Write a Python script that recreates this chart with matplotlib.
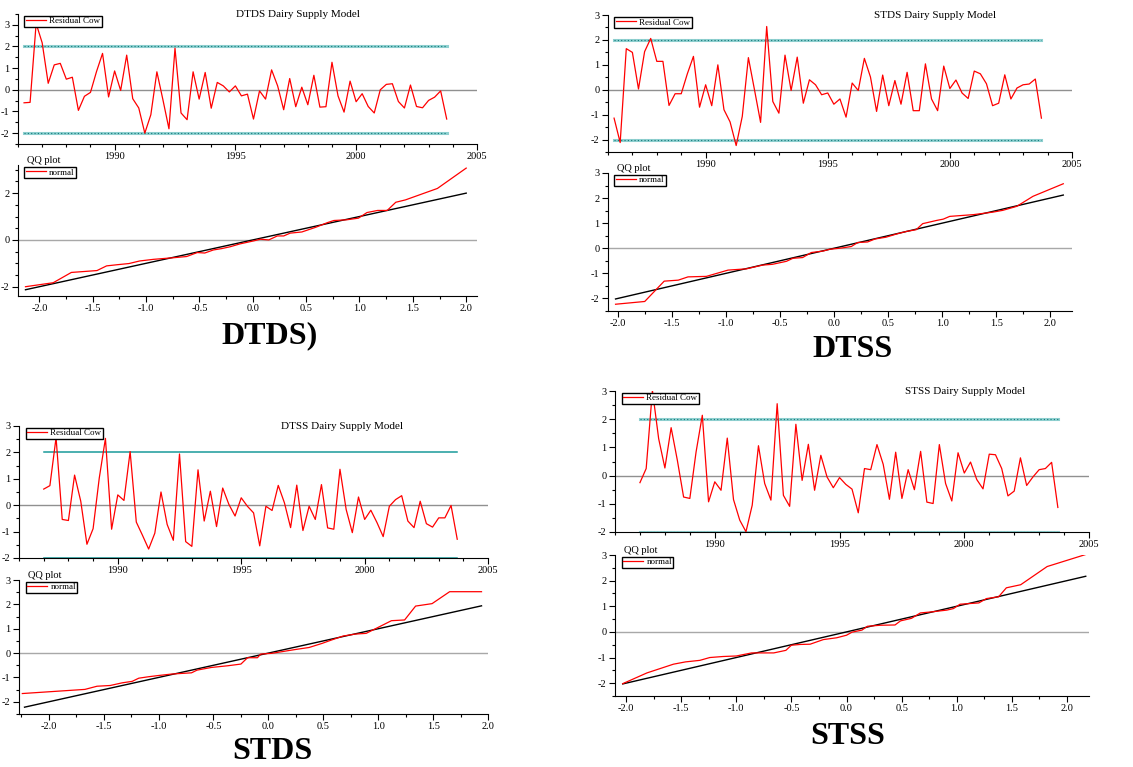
import numpy as np
import matplotlib
matplotlib.use('Agg')
import matplotlib.pyplot as plt
from matplotlib.ticker import MultipleLocator

plt.rcParams['font.family'] = ['Liberation Serif', 'DejaVu Serif']
plt.rcParams['axes.unicode_minus'] = False

# residuals, quarterly
dates_86 = np.arange(1986.25, 2003.76, 0.25)   # 71 quarters
dates_87 = np.arange(1987.0, 2003.76, 0.25)    # 68 quarters

res_dtds = [-0.6, -0.58, 3.06, 2.17, 0.3, 1.15, 1.22, 0.49, 0.58, -0.95,
            -0.3, -0.12, 0.84, 1.68, -0.33, 0.87, -0.03, 1.6, -0.41, -0.84,
            -2.0, -1.15, 0.83, -0.46, -1.8, 1.92, -1.07, -1.38, 0.83, -0.43,
            0.8, -0.85, 0.34, 0.18, -0.1, 0.18, -0.28, -0.2, -1.35, -0.05,
            -0.43, 0.92, 0.18, -0.92, 0.52, -0.78, 0.12, -0.69, 0.67, -0.8,
            -0.78, 1.27, -0.28, -1.03, 0.4, -0.55, -0.18, -0.77, -1.07, 0.0,
            0.25, 0.28, -0.54, -0.84, 0.22, -0.77, -0.83, -0.49, -0.34, -0.05,
            -1.35]
res_stds = [-1.14, -2.12, 1.65, 1.5, 0.03, 1.53, 2.06, 1.14, 1.14, -0.63,
            -0.16, -0.16, 0.64, 1.34, -0.7, 0.2, -0.64, 1.0, -0.8, -1.29,
            -2.24, -1.07, 1.29, 0.0, -1.31, 2.54, -0.47, -0.94, 1.39, -0.03,
            1.31, -0.54, 0.4, 0.2, -0.2, -0.13, -0.58, -0.37, -1.1, 0.27,
            -0.03, 1.26, 0.51, -0.87, 0.59, -0.64, 0.37, -0.58, 0.7, -0.84,
            -0.84, 1.04, -0.37, -0.84, 0.95, 0.05, 0.39, -0.13, -0.35, 0.75,
            0.64, 0.24, -0.64, -0.54, 0.6, -0.37, 0.07, 0.2, 0.23, 0.43,
            -1.14]
res_dtss = [0.61, 0.74, 2.56, -0.54, -0.58, 1.14, 0.15, -1.48, -0.89, 1.03,
            2.53, -0.91, 0.39, 0.18, 2.03, -0.64, -1.14, -1.66, -1.06, 0.5,
            -0.73, -1.33, 1.94, -1.38, -1.56, 1.34, -0.6, 0.53, -0.81, 0.65,
            0.03, -0.41, 0.28, -0.04, -0.29, -1.54, -0.04, -0.2, 0.75, 0.09,
            -0.85, 0.76, -0.96, -0.04, -0.54, 0.78, -0.86, -0.91, 1.36, -0.16,
            -1.04, 0.31, -0.54, -0.19, -0.66, -1.19, -0.04, 0.21, 0.36, -0.6,
            -0.85, 0.15, -0.7, -0.83, -0.48, -0.48, -0.01, -1.29]
res_stss = [-0.25, 0.25, 3.02, 1.31, 0.27, 1.7, 0.54, -0.76, -0.81, 0.84,
            2.14, -0.93, -0.22, -0.52, 1.33, -0.85, -1.58, -1.99, -1.05, 1.06,
            -0.28, -0.87, 2.55, -0.7, -1.09, 1.82, -0.17, 1.11, -0.52, 0.72,
            -0.05, -0.43, -0.07, -0.31, -0.48, -1.32, 0.25, 0.21, 1.1, 0.4,
            -0.84, 0.83, -0.81, 0.21, -0.5, 0.86, -0.94, -0.99, 1.1, -0.28,
            -0.9, 0.81, 0.09, 0.48, -0.14, -0.47, 0.76, 0.74, 0.25, -0.72,
            -0.55, 0.63, -0.35, -0.05, 0.21, 0.25, 0.47, -1.13]

# QQ plots: theoretical quantile, sample quantile
qq_dtds_x = [-2.13, -1.87, -1.70, -1.46, -1.37, -1.27, -1.16, -1.06, -0.93, -0.74,
             -0.62, -0.52, -0.45, -0.37, -0.29, -0.21, -0.12, 0.01, 0.07, 0.15,
             0.23, 0.29, 0.35, 0.46, 0.59, 0.70, 0.76, 0.88, 0.99, 1.07,
             1.17, 1.26, 1.34, 1.43, 1.73, 2.0]
qq_dtds_y = [-2.0, -1.83, -1.39, -1.31, -1.11, -1.06, -1.01, -0.9, -0.83, -0.76,
             -0.71, -0.54, -0.56, -0.43, -0.37, -0.29, -0.17, -0.04, 0.03, 0.0,
             0.17, 0.17, 0.29, 0.34, 0.54, 0.74, 0.83, 0.86, 0.93, 1.17,
             1.26, 1.26, 1.61, 1.71, 2.2, 3.07]
qq_stds_x = [-2.02, -1.75, -1.57, -1.44, -1.35, -1.18, -0.98, -0.81, -0.66, -0.57,
             -0.44, -0.38, -0.29, -0.21, -0.10, -0.04, 0.07, 0.16, 0.22, 0.31,
             0.38, 0.48, 0.58, 0.67, 0.76, 0.82, 0.95, 1.01, 1.07, 1.29,
             1.47, 1.56, 1.69, 1.84, 2.12]
qq_stds_y = [-2.23, -2.12, -1.31, -1.27, -1.14, -1.12, -0.87, -0.82, -0.67, -0.64,
             -0.52, -0.40, -0.37, -0.17, -0.11, -0.04, 0.01, 0.07, 0.23, 0.25,
             0.37, 0.44, 0.57, 0.67, 0.74, 0.98, 1.11, 1.16, 1.27, 1.34,
             1.44, 1.51, 1.67, 2.07, 2.57]
qq_dtss_x = [-2.24, -1.67, -1.56, -1.44, -1.33, -1.24, -1.18, -1.09, -1.0, -0.88,
             -0.70, -0.65, -0.52, -0.37, -0.25, -0.19, -0.10, -0.07, 0.03, 0.18,
             0.25, 0.37, 0.49, 0.57, 0.68, 0.79, 0.89, 1.01, 1.12, 1.24,
             1.34, 1.49, 1.65, 1.94]
qq_dtss_y = [-1.66, -1.49, -1.36, -1.33, -1.22, -1.16, -1.03, -0.97, -0.92, -0.86,
             -0.81, -0.70, -0.59, -0.52, -0.45, -0.19, -0.19, -0.04, -0.01, 0.1,
             0.15, 0.23, 0.4, 0.53, 0.70, 0.78, 0.81, 1.08, 1.33, 1.36,
             1.93, 2.03, 2.52, 2.52]
qq_stss_x = [-2.03, -1.81, -1.57, -1.46, -1.33, -1.24, -1.12, -1.0, -0.86, -0.66,
             -0.55, -0.50, -0.42, -0.33, -0.21, -0.09, 0.0, 0.05, 0.14, 0.19,
             0.31, 0.44, 0.49, 0.59, 0.67, 0.77, 0.91, 0.97, 1.03, 1.20,
             1.27, 1.38, 1.45, 1.58, 1.82, 2.17]
qq_stss_y = [-2.02, -1.60, -1.26, -1.17, -1.11, -1.0, -0.96, -0.94, -0.82, -0.82,
             -0.72, -0.52, -0.49, -0.48, -0.30, -0.23, -0.13, -0.01, 0.07, 0.22,
             0.26, 0.27, 0.43, 0.53, 0.74, 0.78, 0.85, 0.91, 1.08, 1.13,
             1.30, 1.37, 1.72, 1.84, 2.55, 3.02]

# reference (45 degree) line ends
ref_dtds = [-2.13, 2.0]
ref_stds = [-2.02, 2.12]
ref_dtss = [-2.22, 1.94]
ref_stss = [-2.03, 2.17]

TEAL = '#1a9a9a'


def style_axes(ax):
    ax.spines['top'].set_visible(False)
    ax.spines['right'].set_visible(False)
    ax.tick_params(which='both', direction='out', labelsize=7.5, width=0.8, pad=2)
    ax.tick_params(which='major', length=4)
    ax.tick_params(which='minor', length=2)


def resid_panel(rect, dates, res, title, ylim, title_x, thick=True):
    ax = fig.add_axes(rect)
    ax.axhline(0, color='#909090', lw=1)
    if thick:
        for lev in (2, -2):
            ax.plot([dates[0], dates[-1]], [lev, lev], color='#8fd0d0', lw=2.2)
            ax.plot([dates[0], dates[-1]], [lev, lev], color='#107878', lw=0.8, ls=(0, (1, 2)))
    else:
        for lev in (2, -2):
            ax.plot([dates[0], dates[-1]], [lev, lev], color=TEAL, lw=1.1)
    ax.plot(dates, res, color='red', lw=0.9, label='Residual Cow')
    ax.set_xlim(1986, 2005)
    ax.set_ylim(*ylim)
    ax.xaxis.set_major_locator(MultipleLocator(5))
    ax.xaxis.set_minor_locator(MultipleLocator(1))
    ax.yaxis.set_major_locator(MultipleLocator(1))
    ax.yaxis.set_minor_locator(MultipleLocator(0.5))
    style_axes(ax)
    ax.text(title_x, 0.995, title, transform=ax.transAxes, ha='center', va='center', fontsize=8)
    leg = ax.legend(loc='upper left', bbox_to_anchor=(0.01, 1.0), fontsize=6.5, frameon=True,
                    fancybox=False, edgecolor='black', framealpha=1, borderpad=0.15,
                    handlelength=2.2, handletextpad=0.4, borderaxespad=0.2)
    leg.get_frame().set_linewidth(1.0)
    return ax


def qq_panel(rect, qx, qy, ref, xlim, ylim, ymajor):
    ax = fig.add_axes(rect)
    ax.axhline(0, color='#a8a8a8', lw=1)
    ax.plot(ref, ref, color='black', lw=1)
    ax.plot(qx, qy, color='red', lw=0.9, label='normal')
    ax.set_xlim(*xlim)
    ax.set_ylim(*ylim)
    ax.xaxis.set_major_locator(MultipleLocator(0.5))
    ax.xaxis.set_minor_locator(MultipleLocator(0.25))
    ax.xaxis.set_major_formatter(matplotlib.ticker.FormatStrFormatter('%.1f'))
    ax.yaxis.set_major_locator(MultipleLocator(ymajor))
    ax.yaxis.set_minor_locator(MultipleLocator(0.5))
    style_axes(ax)
    ax.text(0.02, 1.0, 'QQ plot', transform=ax.transAxes, ha='left', va='bottom', fontsize=7.5)
    leg = ax.legend(loc='upper left', bbox_to_anchor=(0.01, 1.0), fontsize=6.5, frameon=True,
                    fancybox=False, edgecolor='black', framealpha=1, borderpad=0.15,
                    handlelength=2.2, handletextpad=0.4, borderaxespad=0.2)
    leg.get_frame().set_linewidth(1.0)
    return ax


fig = plt.figure(figsize=(11.33, 7.67), dpi=100)

# top left
resid_panel([0.0159, 0.8123, 0.405, 0.1695], dates_86, res_dtds,
            'DTDS Dairy Supply Model', (-2.5, 3.5), 0.61)
qq_panel([0.0159, 0.614, 0.405, 0.1708], qq_dtds_x, qq_dtds_y, ref_dtds,
         (-2.2, 2.1), (-2.4, 3.2), 2)
fig.text(0.2383, 0.5619, 'DTDS)', ha='center', va='center', fontsize=23, fontweight='bold')

# top right
resid_panel([0.5366, 0.8018, 0.4095, 0.1786], dates_86, res_stds,
            'STDS Dairy Supply Model', (-2.5, 3.0), 0.706)
qq_panel([0.5366, 0.5945, 0.4095, 0.18], qq_stds_x, qq_stds_y, ref_stds,
         (-2.09, 2.2), (-2.5, 3.0), 1)
fig.text(0.7529, 0.5437, 'DTSS', ha='center', va='center', fontsize=23, fontweight='bold')

# bottom left
resid_panel([0.0168, 0.2725, 0.414, 0.1721], dates_87, res_dtss,
            'DTSS Dairy Supply Model', (-2.0, 3.0), 0.688, thick=False)
qq_panel([0.0168, 0.0691, 0.414, 0.1747], qq_dtss_x, qq_dtss_y, ref_dtss,
         (-2.27, 2.0), (-2.5, 3.0), 1)
fig.text(0.2401, 0.0196, 'STDS', ha='center', va='center', fontsize=23, fontweight='bold')

# bottom right
resid_panel([0.5428, 0.3064, 0.4184, 0.1838], dates_87, res_stss,
            'STSS Dairy Supply Model', (-2.0, 3.0), 0.738)
qq_panel([0.5428, 0.0926, 0.4184, 0.1838], qq_stss_x, qq_stss_y, ref_stss,
         (-2.1, 2.2), (-2.5, 3.0), 1)
fig.text(0.748, 0.0404, 'STSS', ha='center', va='center', fontsize=23, fontweight='bold')

fig.savefig('out.png', dpi=100)
